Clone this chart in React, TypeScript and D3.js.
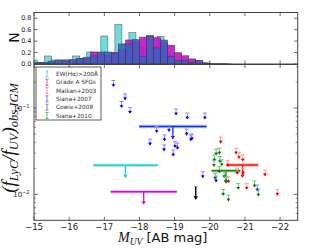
import React from 'react';
import * as d3 from 'd3';

const W = 320, H = 252;
const L = 34, R = 297.7;
const topT = 12.5, topB = 64;
const botT = 64.5, botB = 220.3;

const xTicks = [-15, -16, -17, -18, -19, -20, -21, -22];
const histTicks = [0.0, 0.2, 0.4, 0.6, 0.8];
const logTicks = [0.01, 0.1];
const histBinWidth = 0.2;
const cyanStart = -14.9;
const cyanCounts = [0.07, 0.03, 0.14, 0.07, 0.07, 0.07, 0.14, 0.10, 0.21, 0.15, 0.49, 0.20, 0.69, 0.35, 0.55, 0.30, 0.25, 0.30, 0.48, 0.15, 0.06, 0.06, 0.03, 0.06, 0.02, 0.005, 0.005, 0.005];
const histStart = -15.0;
const magentaCounts = [0.02, 0.01, 0.02, 0.03, 0.04, 0.06, 0.09, 0.10, 0.21, 0.20, 0.15, 0.20, 0.25, 0.42, 0.40, 0.47, 0.50, 0.46, 0.38, 0.33, 0.20, 0.145, 0.09, 0.06, 0.02, 0.005, 0.003, 0.003];
const blueCounts = [0.02, 0.03, 0.05, 0.07, 0.07, 0.08, 0.10, 0.12, 0.14, 0.21, 0.21, 0.18, 0.35, 0.35, 0.43, 0.13, 0.48, 0.28, 0.42, 0.13, 0.065, 0.065, 0.03, 0.06, 0.01];

// upper limits (M_UV, flux ratio)
const siana07M = [-17.26, -17.59, -17.49, -17.73, -18.30, -19.04, -19.36, -19.86, -18.49, -18.84, -19.34, -19.49, -19.46, -18.71, -18.70, -19.01, -19.08, -18.96, -19.80, -20.18, -21.35];
const siana07F = [0.209, 0.146, 0.119, 0.102, 0.0436, 0.0973, 0.0875, 0.0875, 0.0611, 0.0628, 0.0570, 0.0502, 0.0489, 0.0489, 0.0374, 0.0409, 0.0392, 0.0327, 0.0183, 0.0163, 0.0128];
const malkanM = [-20.31, -20.75, -20.83, -20.94, -20.51, -20.78, -20.95, -20.53, -21.57, -21.05, -21.92];
const malkanF = [0.0460, 0.0343, 0.0305, 0.0286, 0.0246, 0.0200, 0.0202, 0.0160, 0.0192, 0.0134, 0.0114];
const siana10M = [-20.27, -20.18, -20.13, -20.29, -20.12, -20.34, -20.27, -20.41, -20.15, -20.46, -20.81, -21.27, -21.38, -20.38, -20.53];
const siana10F = [0.0343, 0.0334, 0.0286, 0.0274, 0.0246, 0.0251, 0.0209, 0.0183, 0.0175, 0.0160, 0.0134, 0.0143, 0.0112, 0.0114, 0.00982];
const cowieM = [-19.60];
const cowieF = [0.01226];

// sample means: M, half-width, ratio
const meanNames = ['ew', 'gradeA', 'siana07', 'malkan', 'siana10'];
const meanM = [-17.6, -18.12, -18.95, -20.93, -20.46];
const meanXerr = [0.92, 0.94, 0.96, 0.45, 0.41];
const meanF = [0.0217, 0.0107, 0.0611, 0.0219, 0.0188];
const meanColors = ['#22cccc', '#cc11cc', '#1133ee', '#ff1111', '#118811'];

const legendLabels = ['EW(Hα)>200Å', 'Grade A SFGs', 'Malkan+2003', 'Siana+2007', 'Cowie+2008', 'Siana+2010'];
const legendColors = ['#55dddd', '#dd55dd', '#ff8888', '#7777ff', '#888888', '#66bb66'];

const x = d3.scaleLinear().domain([-15, -22.5]).range([L, R]);
const yH = d3.scaleLinear().domain([0, 0.9]).range([topB, topT]);
const yL = d3.scaleLog().domain([0.005, 0.32]).range([botB, botT]);

const frame = '#444';
const sans = 'DejaVu Sans, sans-serif';
const serif = 'Liberation Serif, DejaVu Serif, serif';

function Hist({ start, counts, fill, opacity }: { start: number; counts: number[]; fill: string; opacity: number }) {
  return (
    <g>
      {counts.map((c, i) => {
        const a = start - i * histBinWidth;
        const b = a - histBinWidth;
        return (
          <rect key={i} x={x(a)} y={yH(c)} width={x(b) - x(a)} height={yH(0) - yH(c)}
            fill={fill} fillOpacity={opacity} stroke="#333" strokeOpacity={0.7} strokeWidth={0.6} />
        );
      })}
    </g>
  );
}

function Limit({ m, f, color, light, len = 6.5 }: { m: number; f: number; color: string; light: string; len?: number }) {
  const cx = x(m), cy = yL(f);
  const tip = cy + len;
  return (
    <g>
      <line x1={cx - 2} x2={cx + 2} y1={cy} y2={cy} stroke={light} strokeWidth={1} />
      <line x1={cx} x2={cx} y1={cy} y2={cy + len * 0.45} stroke={light} strokeWidth={1} />
      <line x1={cx} x2={cx} y1={cy + len * 0.45} y2={tip - 2} stroke={color} strokeWidth={1} />
      <path d={`M${cx - 2},${tip - 2.8}L${cx + 2},${tip - 2.8}L${cx},${tip}Z`} fill={color} />
    </g>
  );
}

export default function App() {
  const minor: number[] = [];
  [0.001, 0.01, 0.1].forEach((dec) => {
    for (let k = 2; k <= 9; k++) {
      const v = dec * k;
      if (v > 0.005 && v < 0.32) minor.push(v);
    }
  });
  return (
    <svg width={W} height={H} style={{ position: 'absolute', left: 0, top: 0, background: '#fff' }}>
      <defs>
        <clipPath id="topclip"><rect x={L} y={topT} width={R - L} height={topB - topT} /></clipPath>
        <clipPath id="botclip"><rect x={L} y={botT} width={R - L} height={botB - botT} /></clipPath>
        <clipPath id="ylabclip"><rect x={0} y={65} width={30} height={160} /></clipPath>
      </defs>
      <rect width={W} height={H} fill="#fff" />

      {/* top histogram */}
      <g clipPath="url(#topclip)">
        <Hist start={cyanStart} counts={cyanCounts} fill="#4fd3d3" opacity={0.8} />
        <Hist start={histStart} counts={magentaCounts} fill="#c312c3" opacity={0.9} />
        <Hist start={histStart} counts={blueCounts} fill="#3d5fc2" opacity={0.88} />
      </g>
      <rect x={L} y={topT} width={R - L} height={topB - topT} fill="none" stroke={frame} strokeWidth={1} />
      {xTicks.map((t) => (
        <g key={'tt' + t}>
          <line x1={x(t)} x2={x(t)} y1={topT} y2={topT + 3.5} stroke={frame} strokeWidth={0.8} />
          <line x1={x(t)} x2={x(t)} y1={topB} y2={topB - 3.5} stroke={frame} strokeWidth={0.8} />
        </g>
      ))}
      {histTicks.map((t) => (
        <g key={'ht' + t}>
          <line x1={L} x2={L + 3.5} y1={yH(t)} y2={yH(t)} stroke={frame} strokeWidth={0.8} />
          <line x1={R} x2={R - 3.5} y1={yH(t)} y2={yH(t)} stroke={frame} strokeWidth={0.8} />
          <text x={L - 2.5} y={yH(t)} dy="0.35em" textAnchor="end" fontFamily={sans} fontSize={6.5} fill="#222">{t.toFixed(1)}</text>
        </g>
      ))}
      <text transform={`translate(18.5,37.5) rotate(-90)`} textAnchor="middle" fontFamily={sans} fontSize={14} fill="#111">N</text>

      {/* bottom panel */}
      <g clipPath="url(#botclip)">
        {meanM.map((m, i) => {
          const y0 = yL(meanF[i]);
          const c = meanColors[i];
          return (
            <g key={meanNames[i]}>
              <line x1={x(m + meanXerr[i])} x2={x(m - meanXerr[i])} y1={y0} y2={y0} stroke={c} strokeOpacity={0.3} strokeWidth={3.5} />
              <line x1={x(m + meanXerr[i])} x2={x(m - meanXerr[i])} y1={y0} y2={y0} stroke={c} strokeWidth={1.5} />
              <line x1={x(m)} x2={x(m)} y1={y0} y2={y0 + 10} stroke={c} strokeWidth={1.3} />
              <path d={`M${x(m) - 2.2},${y0 + 9.5}L${x(m) + 2.2},${y0 + 9.5}L${x(m)},${y0 + 13}Z`} fill={c} />
            </g>
          );
        })}
        {siana07M.map((m, i) => <Limit key={'s7' + i} m={m} f={siana07F[i]} color="#0000ff" light="#8888ff" />)}
        {malkanM.map((m, i) => <Limit key={'mk' + i} m={m} f={malkanF[i]} color="#ff0000" light="#ff9999" />)}
        {siana10M.map((m, i) => <Limit key={'s10' + i} m={m} f={siana10F[i]} color="#008000" light="#77bb77" />)}
        {cowieM.map((m, i) => (
          <g key={'cw' + i}>
            <line x1={x(m) - 2} x2={x(m) + 2} y1={yL(cowieF[i])} y2={yL(cowieF[i])} stroke="#aaa" strokeWidth={1} />
            <line x1={x(m)} x2={x(m)} y1={yL(cowieF[i])} y2={yL(cowieF[i]) + 10} stroke="#000" strokeWidth={1.4} />
            <path d={`M${x(m) - 2.2},${yL(cowieF[i]) + 9.5}L${x(m) + 2.2},${yL(cowieF[i]) + 9.5}L${x(m)},${yL(cowieF[i]) + 13.3}Z`} fill="#000" />
          </g>
        ))}
      </g>
      <rect x={L} y={botT} width={R - L} height={botB - botT} fill="none" stroke={frame} strokeWidth={1} />
      {xTicks.map((t) => (
        <g key={'bt' + t}>
          <line x1={x(t)} x2={x(t)} y1={botB} y2={botB - 3.5} stroke={frame} strokeWidth={0.8} />
          <line x1={x(t)} x2={x(t)} y1={botT} y2={botT + 3.5} stroke={frame} strokeWidth={0.8} />
          <text x={x(t)} y={229.5} textAnchor="middle" fontFamily={sans} fontSize={8.5} fill="#222">{'\u2212' + Math.abs(t)}</text>
        </g>
      ))}
      {logTicks.map((t) => (
        <g key={'lt' + t}>
          <line x1={L} x2={L + 4} y1={yL(t)} y2={yL(t)} stroke={frame} strokeWidth={0.8} />
          <line x1={R} x2={R - 4} y1={yL(t)} y2={yL(t)} stroke={frame} strokeWidth={0.8} />
          <text x={L - 4.5} y={yL(t) + 2.6} textAnchor="end" fontFamily={sans} fontSize={7} fill="#222">
            10<tspan dy={-3} fontSize={5}>{'\u2212' + Math.round(-Math.log10(t))}</tspan>
          </text>
        </g>
      ))}
      {minor.map((t) => (
        <g key={'mn' + t}>
          <line x1={L} x2={L + 2} y1={yL(t)} y2={yL(t)} stroke={frame} strokeWidth={0.6} />
          <line x1={R} x2={R - 2} y1={yL(t)} y2={yL(t)} stroke={frame} strokeWidth={0.6} />
        </g>
      ))}

      {/* legend */}
      <rect x={36} y={67} width={65} height={53} fill="#fff" stroke="#333" strokeWidth={0.8} />
      {legendLabels.map((lab, i) => {
        const yy = 74 + i * 8.3;
        const c = legendColors[i];
        return (
          <g key={lab}>
            <line x1={47} x2={47} y1={yy - 3} y2={yy + 3} stroke={c} strokeWidth={1} />
            <line x1={45.5} x2={48.5} y1={yy - 3} y2={yy - 3} stroke={c} strokeWidth={1} />
            <line x1={45.5} x2={48.5} y1={yy + 3} y2={yy + 3} stroke={c} strokeWidth={1} />
            <text x={56} y={yy} dy="0.35em" fontFamily={sans} fontSize={5.8} fill="#333">{lab}</text>
          </g>
        );
      })}

      {/* axis labels */}
      <text x={118} y={242} fontFamily={serif} fontSize={14} fill="#111">
        <tspan fontStyle="italic">M</tspan>
        <tspan fontStyle="italic" fontSize={9.5} dy={2.5}>UV</tspan>
        <tspan fontFamily={sans} fontSize={13} dy={-2.5}>{' [AB mag]'}</tspan>
      </text>
      <g clipPath="url(#ylabclip)">
        <text transform={`translate(14.5,138) rotate(-90)`} textAnchor="middle" fontFamily={serif} fontSize={19} fill="#111" fontStyle="italic">
          (f<tspan fontSize={12.5} dy={3}>LyC</tspan><tspan dy={-3}>/f</tspan><tspan fontSize={12.5} dy={3}>UV</tspan><tspan dy={-3}>)</tspan><tspan fontSize={12.5} dy={3}>obs,IGM</tspan>
        </text>
      </g>
    </svg>
  );
}
